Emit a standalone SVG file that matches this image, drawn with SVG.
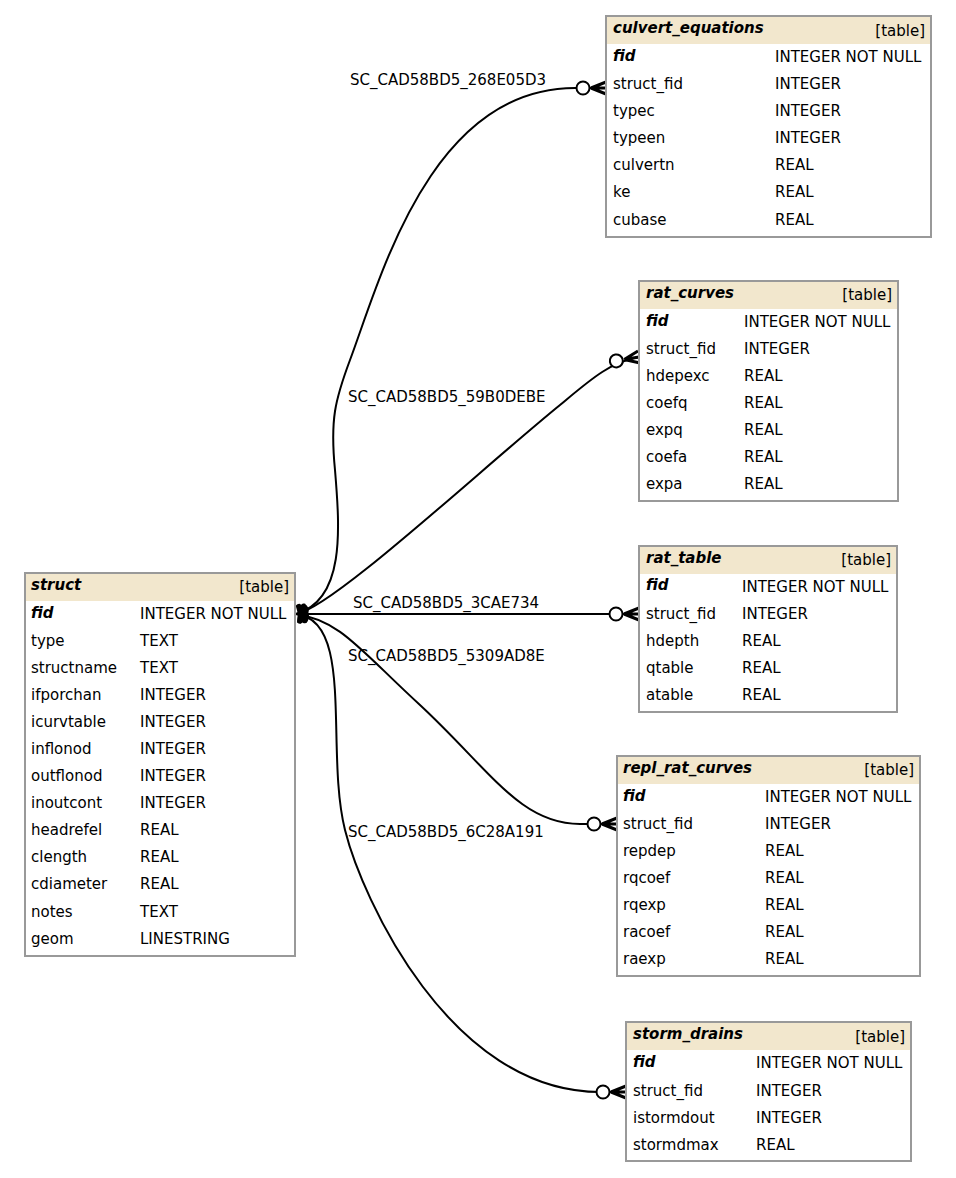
<svg xmlns="http://www.w3.org/2000/svg" width="956" height="1178" viewBox="0 0 956 1178">
<style>
text{font-family:"DejaVu Sans","Liberation Sans",sans-serif;font-size:15px;fill:#000}
.box{fill:#fff;stroke:#999;stroke-width:2}
.hdr{fill:#f2e7cd}
.tn{font-weight:bold;font-style:italic}
.tt{text-anchor:end}
.pk{font-weight:bold;font-style:italic}
.conn{fill:none;stroke:#000;stroke-width:2}
</style>
<defs>
<marker id="many" markerUnits="userSpaceOnUse" markerWidth="40" markerHeight="30" refX="0" refY="0" orient="auto" overflow="visible">
<path d="M-15,0 L0,-6 M-15,0 L0,0 M-15,0 L0,6" fill="none" stroke="#000" stroke-width="3"/>
<circle cx="-23" cy="0" r="6.5" fill="#fff" stroke="#000" stroke-width="2"/>
</marker>
<marker id="one" markerUnits="userSpaceOnUse" markerWidth="30" markerHeight="30" refX="0" refY="0" orient="auto" overflow="visible">
<rect x="2" y="-9" width="5" height="18" rx="2" fill="#000"/>
<rect x="7" y="-8" width="5" height="16" rx="2" fill="#000"/>
</marker>
</defs>
<rect width="956" height="1178" fill="#fff"/>

<g id="connectors">
<path class="conn" d="M296,614 C345,600 340,530 335,470 C330,420 335,400 350,360 C380,280 430,88 575,88 L606,88" marker-start="url(#one)" marker-end="url(#many)"/>
<path class="conn" d="M296,614 C330,610 480,470 560,405 C590,380 610,362 639,357" marker-start="url(#one)" marker-end="url(#many)"/>
<path class="conn" d="M296,614 L639,614" marker-start="url(#one)" marker-end="url(#many)"/>
<path class="conn" d="M296,614 C340,620 360,650 420,705 C490,770 520,824 580,824 L617,824" marker-start="url(#one)" marker-end="url(#many)"/>
<path class="conn" d="M296,614 C355,620 325,750 345,830 C362,898 450,1092 600,1092 L626,1092" marker-start="url(#one)" marker-end="url(#many)"/>
<text x="350" y="85">SC_CAD58BD5_268E05D3</text>
<text x="348" y="402">SC_CAD58BD5_59B0DEBE</text>
<text x="353" y="608">SC_CAD58BD5_3CAE734</text>
<text x="348" y="661">SC_CAD58BD5_5309AD8E</text>
<text x="348" y="837">SC_CAD58BD5_6C28A191</text>
</g>

<g id="struct">
<rect class="box" x="25" y="573" width="270" height="383"/>
<rect class="hdr" x="26" y="574" width="268" height="27"/>
<text class="tn" x="31" y="590">struct</text>
<text class="tt" x="289" y="592">[table]</text>
<text class="pk" x="31" y="618">fid</text><text x="140" y="619">INTEGER NOT NULL</text>
<text x="31" y="646">type</text><text x="140" y="646">TEXT</text>
<text x="31" y="673">structname</text><text x="140" y="673">TEXT</text>
<text x="31" y="700">ifporchan</text><text x="140" y="700">INTEGER</text>
<text x="31" y="727">icurvtable</text><text x="140" y="727">INTEGER</text>
<text x="31" y="754">inflonod</text><text x="140" y="754">INTEGER</text>
<text x="31" y="781">outflonod</text><text x="140" y="781">INTEGER</text>
<text x="31" y="808">inoutcont</text><text x="140" y="808">INTEGER</text>
<text x="31" y="835">headrefel</text><text x="140" y="835">REAL</text>
<text x="31" y="862">clength</text><text x="140" y="862">REAL</text>
<text x="31" y="889">cdiameter</text><text x="140" y="889">REAL</text>
<text x="31" y="917">notes</text><text x="140" y="917">TEXT</text>
<text x="31" y="944">geom</text><text x="140" y="944">LINESTRING</text>
</g>

<g id="culvert_equations">
<rect class="box" x="606" y="16" width="325" height="221"/>
<rect class="hdr" x="607" y="17" width="323" height="27"/>
<text class="tn" x="613" y="33">culvert_equations</text>
<text class="tt" x="925" y="36">[table]</text>
<text class="pk" x="613" y="61">fid</text><text x="775" y="62">INTEGER NOT NULL</text>
<text x="613" y="89">struct_fid</text><text x="775" y="89">INTEGER</text>
<text x="613" y="116">typec</text><text x="775" y="116">INTEGER</text>
<text x="613" y="143">typeen</text><text x="775" y="143">INTEGER</text>
<text x="613" y="170">culvertn</text><text x="775" y="170">REAL</text>
<text x="613" y="197">ke</text><text x="775" y="197">REAL</text>
<text x="613" y="225">cubase</text><text x="775" y="225">REAL</text>
</g>

<g id="rat_curves">
<rect class="box" x="639" y="281" width="259" height="220"/>
<rect class="hdr" x="640" y="282" width="257" height="27"/>
<text class="tn" x="646" y="298">rat_curves</text>
<text class="tt" x="892" y="300">[table]</text>
<text class="pk" x="646" y="326">fid</text><text x="744" y="327">INTEGER NOT NULL</text>
<text x="646" y="354">struct_fid</text><text x="744" y="354">INTEGER</text>
<text x="646" y="381">hdepexc</text><text x="744" y="381">REAL</text>
<text x="646" y="408">coefq</text><text x="744" y="408">REAL</text>
<text x="646" y="435">expq</text><text x="744" y="435">REAL</text>
<text x="646" y="462">coefa</text><text x="744" y="462">REAL</text>
<text x="646" y="489">expa</text><text x="744" y="489">REAL</text>
</g>

<g id="rat_table">
<rect class="box" x="639" y="546" width="258" height="166"/>
<rect class="hdr" x="640" y="547" width="256" height="27"/>
<text class="tn" x="646" y="563">rat_table</text>
<text class="tt" x="891" y="565">[table]</text>
<text class="pk" x="646" y="590">fid</text><text x="742" y="592">INTEGER NOT NULL</text>
<text x="646" y="619">struct_fid</text><text x="742" y="619">INTEGER</text>
<text x="646" y="646">hdepth</text><text x="742" y="646">REAL</text>
<text x="646" y="673">qtable</text><text x="742" y="673">REAL</text>
<text x="646" y="700">atable</text><text x="742" y="700">REAL</text>
</g>

<g id="repl_rat_curves">
<rect class="box" x="617" y="756" width="303" height="220"/>
<rect class="hdr" x="618" y="757" width="301" height="27"/>
<text class="tn" x="623" y="773">repl_rat_curves</text>
<text class="tt" x="914" y="775">[table]</text>
<text class="pk" x="623" y="801">fid</text><text x="765" y="802">INTEGER NOT NULL</text>
<text x="623" y="829">struct_fid</text><text x="765" y="829">INTEGER</text>
<text x="623" y="856">repdep</text><text x="765" y="856">REAL</text>
<text x="623" y="883">rqcoef</text><text x="765" y="883">REAL</text>
<text x="623" y="910">rqexp</text><text x="765" y="910">REAL</text>
<text x="623" y="937">racoef</text><text x="765" y="937">REAL</text>
<text x="623" y="964">raexp</text><text x="765" y="964">REAL</text>
</g>

<g id="storm_drains">
<rect class="box" x="626" y="1022" width="285" height="139"/>
<rect class="hdr" x="627" y="1023" width="283" height="27"/>
<text class="tn" x="633" y="1039">storm_drains</text>
<text class="tt" x="905" y="1042">[table]</text>
<text class="pk" x="633" y="1067">fid</text><text x="756" y="1068">INTEGER NOT NULL</text>
<text x="633" y="1096">struct_fid</text><text x="756" y="1096">INTEGER</text>
<text x="633" y="1123">istormdout</text><text x="756" y="1123">INTEGER</text>
<text x="633" y="1150">stormdmax</text><text x="756" y="1150">REAL</text>
</g>
</svg>
